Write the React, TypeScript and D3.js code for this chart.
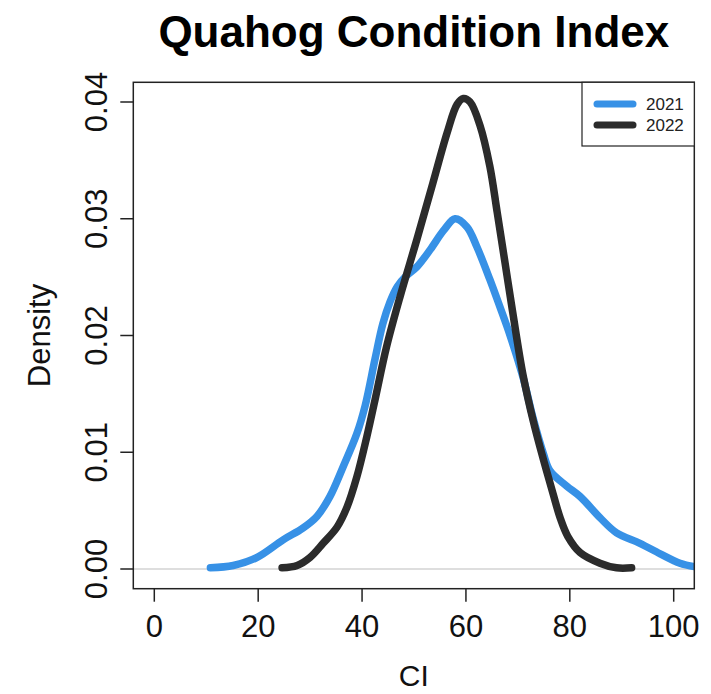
import React from "react";
import * as d3 from "d3";

const title = "Quahog Condition Index";
const xLabel = "CI";
const yLabel = "Density";
const seriesNames = ["2021", "2022"];
const seriesColors = ["#3791e6", "#2b2b2b"];
const xTicks = [0, 20, 40, 60, 80, 100];
const yTicks = [0, 0.01, 0.02, 0.03, 0.04];

const ci2021 = [10.8, 15.2, 19.8, 24.8, 28.6, 31.3, 33.8, 36.3, 39.0, 40.6, 42.5, 44.0, 45.4, 46.8, 48.5, 50.6, 53.2, 55.7, 57.9, 60.2, 62.1, 64.6, 66.5, 68.5, 71.0, 73.0, 74.9, 76.2, 79.4, 82.0, 85.8, 89.0, 93.5, 97.4, 101.2, 104.0];
const d2021 = [0.0001, 0.0003, 0.0010, 0.0025, 0.0035, 0.0045, 0.0062, 0.0087, 0.0116, 0.0140, 0.0180, 0.0210, 0.0229, 0.0242, 0.0251, 0.0259, 0.0274, 0.0290, 0.0300, 0.0293, 0.0276, 0.0248, 0.0225, 0.0200, 0.0164, 0.0128, 0.0099, 0.0084, 0.0071, 0.0062, 0.0044, 0.0031, 0.0022, 0.0013, 0.0005, 0.0002];

const ci2022 = [24.6, 27.5, 30.0, 32.5, 35.2, 37.1, 39.0, 40.9, 42.5, 44.7, 47.3, 50.6, 53.6, 56.4, 58.3, 59.5, 60.8, 62.7, 64.6, 66.0, 67.5, 69.0, 71.0, 73.0, 74.9, 76.8, 78.2, 79.6, 82.0, 85.8, 89.0, 91.9];
const d2022 = [0.0001, 0.0003, 0.0010, 0.0022, 0.0036, 0.0053, 0.0079, 0.0113, 0.0145, 0.0190, 0.0233, 0.0283, 0.0330, 0.0374, 0.0398, 0.0403, 0.0400, 0.0380, 0.0345, 0.0306, 0.0263, 0.0220, 0.0166, 0.0126, 0.0094, 0.0064, 0.0043, 0.0028, 0.0014, 0.0005, 0.0001, 0.0001];

const font = "'Liberation Sans', Arial, sans-serif";

export default function App() {
  const W = 711, H = 694;
  const plot = { left: 133.3, right: 694.3, top: 82.3, bottom: 588.7 };
  const x = d3.scaleLinear().domain([0, 100]).range([154.3, 673.7]);
  const y = d3.scaleLinear().domain([0, 0.04]).range([569, 102]);

  const line = d3
    .line<[number, number]>()
    .x((d) => x(d[0]))
    .y((d) => y(d[1]))
    .curve(d3.curveCatmullRom.alpha(0.5));

  const series = [
    ci2021.map((v, i) => [v, d2021[i]] as [number, number]),
    ci2022.map((v, i) => [v, d2022[i]] as [number, number]),
  ];

  const cx = (plot.left + plot.right) / 2;
  const cy = (plot.top + plot.bottom) / 2;

  const leg = { left: 582, top: plot.top, right: plot.right, bottom: 146 };
  const legRows = [104, 125];

  return (
    <svg width={W} height={H} style={{ position: "absolute", left: 0, top: 0, background: "#fff" }} fontFamily={font}>
      <defs>
        <clipPath id="plotclip">
          <rect x={plot.left} y={plot.top} width={plot.right - plot.left} height={plot.bottom - plot.top} />
        </clipPath>
      </defs>
      <rect x={0} y={0} width={W} height={H} fill="#fff" />
      <text x={cx} y={47} textAnchor="middle" fontSize={44} fontWeight="bold" fill="#000">
        {title}
      </text>
      <line x1={plot.left} x2={plot.right} y1={y(0)} y2={y(0)} stroke="#bdbdbd" strokeWidth={1.2} />
      <g clipPath="url(#plotclip)">
        {series.map((s, i) => (
          <path
            key={i}
            d={line(s) || ""}
            fill="none"
            stroke={seriesColors[i]}
            strokeWidth={7.5}
            strokeLinecap="round"
            strokeLinejoin="round"
          />
        ))}
      </g>
      <rect
        x={plot.left}
        y={plot.top}
        width={plot.right - plot.left}
        height={plot.bottom - plot.top}
        fill="none"
        stroke="#222"
        strokeWidth={1.5}
      />
      {xTicks.map((t) => (
        <g key={t}>
          <line x1={x(t)} x2={x(t)} y1={plot.bottom} y2={plot.bottom + 13} stroke="#222" strokeWidth={1.5} />
          <text x={x(t)} y={637} textAnchor="middle" fontSize={31} fill="#111">
            {t}
          </text>
        </g>
      ))}
      {yTicks.map((t) => (
        <g key={t}>
          <line x1={plot.left - 13} x2={plot.left} y1={y(t)} y2={y(t)} stroke="#222" strokeWidth={1.5} />
          <text
            transform={`translate(107,${y(t)}) rotate(-90)`}
            textAnchor="middle"
            fontSize={31}
            fill="#111"
          >
            {t.toFixed(2)}
          </text>
        </g>
      ))}
      <text x={cx} y={686} textAnchor="middle" fontSize={30} fill="#111">
        {xLabel}
      </text>
      <text transform={`translate(50,${cy}) rotate(-90)`} textAnchor="middle" fontSize={31} fill="#111">
        {yLabel}
      </text>
      <rect
        x={leg.left}
        y={leg.top}
        width={leg.right - leg.left}
        height={leg.bottom - leg.top}
        fill="#fff"
        stroke="#222"
        strokeWidth={1.2}
      />
      {seriesNames.map((n, i) => (
        <g key={n}>
          <line
            x1={597}
            x2={633}
            y1={legRows[i]}
            y2={legRows[i]}
            stroke={seriesColors[i]}
            strokeWidth={7}
            strokeLinecap="round"
          />
          <text x={646} y={legRows[i] + 6} fontSize={17} fill="#222">
            {n}
          </text>
        </g>
      ))}
    </svg>
  );
}
